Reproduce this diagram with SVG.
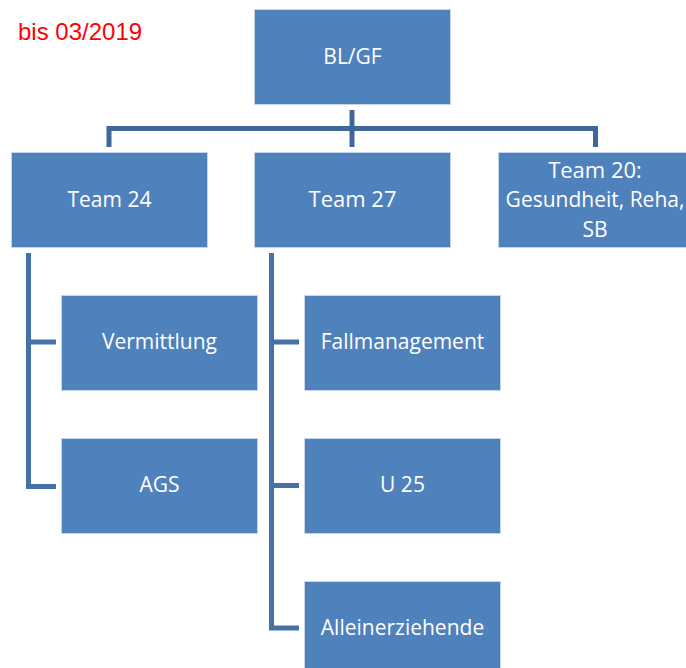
<svg xmlns="http://www.w3.org/2000/svg" width="686" height="668" viewBox="0 0 686 668">
<style>
.box{fill:#4f81bd;stroke:#c5d5ea;stroke-width:1}
.t{font-family:"Open Sans","Noto Sans",sans-serif;font-size:21px;fill:#ffffff;text-anchor:middle}
.c{fill:none;stroke:#4571a8;stroke-width:5}
.c0{fill:none;stroke:#3f6798;stroke-width:5}
</style>
<rect width="686" height="668" fill="#ffffff"/>
<text x="18" y="40" style="font-family:'Liberation Sans',Arial,sans-serif;font-size:24px;fill:#ff0000">bis 03/2019</text>
<g id="connectors">
<path class="c0" d="M109,147 V128.5 H595.5 V147"/>
<path class="c0" d="M352,110 V147"/>
<path class="c" d="M28.5,253 V486.5 H56 M28.5,342 H56"/>
<path class="c" d="M271.5,253 V628 H299 M271.5,342 H299 M271.5,485.5 H299"/>
</g>
<g id="n-blgf"><rect class="box" x="254.5" y="9.5" width="196" height="95"/><text class="t" x="352.5" y="64">BL/GF</text></g>
<g id="n-team24"><rect class="box" x="11.5" y="152.5" width="196" height="95"/><text class="t" x="109.5" y="207">Team 24</text></g>
<g id="n-team27"><rect class="box" x="254.5" y="152.5" width="196" height="95"/><text class="t" x="352.5" y="207" style="font-size:22px">Team 27</text></g>
<g id="n-team20"><rect class="box" x="498.5" y="152.5" width="196" height="95"/><text class="t" x="595" y="178" style="font-size:22px">Team 20:</text><text class="t" x="595" y="207">Gesundheit, Reha,</text><text class="t" x="595" y="237">SB</text></g>
<g id="n-vermittlung"><rect class="box" x="61.5" y="295.5" width="196" height="95"/><text class="t" x="159.5" y="349">Vermittlung</text></g>
<g id="n-ags"><rect class="box" x="61.5" y="438.5" width="196" height="95"/><text class="t" x="159.5" y="492">AGS</text></g>
<g id="n-fallmanagement"><rect class="box" x="304.5" y="295.5" width="196" height="95"/><text class="t" x="402.5" y="349">Fallmanagement</text></g>
<g id="n-u25"><rect class="box" x="304.5" y="438.5" width="196" height="95"/><text class="t" x="402.5" y="492">U 25</text></g>
<g id="n-alleinerziehende"><rect class="box" x="304.5" y="581.5" width="196" height="95"/><text class="t" x="402.5" y="635">Alleinerziehende</text></g>
</svg>
